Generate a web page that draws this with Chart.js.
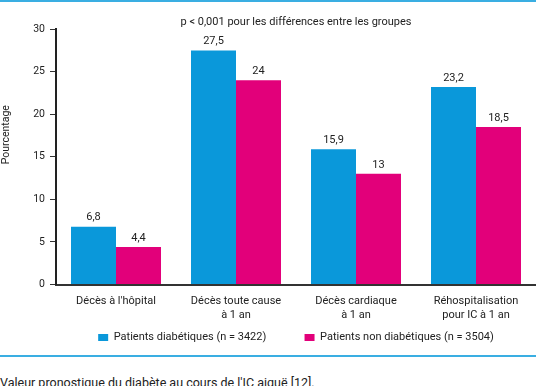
<!DOCTYPE html>
<html><head><meta charset="utf-8">
<script src="https://cdn.jsdelivr.net/npm/chart.js@4"></script>
<style>
html,body{margin:0;padding:0;background:#fff;width:536px;height:386px;overflow:hidden;font-family:Roboto,sans-serif;}
#top{position:absolute;left:0;top:0;width:536px;height:2px;background:#3aaee2;}
#bot{position:absolute;left:0;top:355px;width:536px;height:2px;background:#3aaee2;}
#wrap{position:absolute;left:0;top:0;width:536px;height:353px;}
#cap{position:absolute;left:0;top:375px;font-size:12.5px;line-height:15px;color:#222;white-space:nowrap;}
</style></head><body>
<div id="top"></div>
<div id="wrap"><canvas id="c"></canvas></div>
<div id="bot"></div>
<div id="cap">Valeur pronostique du diabète au cours de l'IC aiguë [12].</div>
<script>
const categories = [["Décès à l'hôpital"], ["Décès toute cause", "à 1 an"], ["Décès cardiaque", "à 1 an"], ["Réhospitalisation", "pour IC à 1 an"]];
const diabetiques = [6.8, 27.5, 15.9, 23.2];
const nonDiabetiques = [4.4, 24, 13, 18.5];
const seriesNames = ["Patients diabétiques (n = 3422)", "Patients non diabétiques (n = 3504)"];
const seriesColors = ["#0a98da", "#e2007a"];
const yTicks = [0, 5, 10, 15, 20, 25, 30];
const titleText = "p < 0,001 pour les différences entre les groupes";
const yTitle = "Pourcentage";

const fmt = v => String(v).replace('.', ',');
const labelPlugin = {
  id: 'vals',
  afterDatasetsDraw(chart) {
    const ctx = chart.ctx;
    ctx.save();
    ctx.fillStyle = '#222';
    ctx.font = '11px Roboto';
    ctx.textAlign = 'center';
    ctx.textBaseline = 'middle';
    chart.data.datasets.forEach((ds, i) => {
      chart.getDatasetMeta(i).data.forEach((el, j) => {
        ctx.fillText(fmt(ds.data[j]), el.x, el.y - 9);
      });
    });
    const y = chart.scales.y;
    ctx.translate(6, y.getPixelForValue(17.6));
    ctx.rotate(-Math.PI / 2);
    ctx.font = '10.5px Roboto';
    ctx.fillText(yTitle, 0, 0);
    ctx.restore();
  }
};
Chart.defaults.font.family = 'Roboto';
Chart.defaults.color = '#222';
new Chart(document.getElementById('c'), {
  type: 'bar',
  data: {
    labels: categories,
    datasets: [
      {label: seriesNames[0], data: diabetiques, backgroundColor: seriesColors[0], categoryPercentage: 0.75, barPercentage: 1},
      {label: seriesNames[1], data: nonDiabetiques, backgroundColor: seriesColors[1], categoryPercentage: 0.75, barPercentage: 1}
    ]
  },
  options: {
    responsive: true, maintainAspectRatio: false, animation: false,
    layout: {padding: {left: 0, right: 0, top: 0, bottom: 0}},
    plugins: {
      title: {display: true, text: titleText, fullSize: false, font: {size: 11, weight: 'normal'}, color: '#222', padding: {top: 16, bottom: 0}},
      legend: {
        position: 'bottom', fullSize: false,
        labels: {
          boxWidth: 10, boxHeight: 7, padding: 10, font: {size: 11}, color: '#222',
          generateLabels(chart) {
            const items = chart.data.datasets.map((ds, i) => ({
              text: ds.label, fillStyle: ds.backgroundColor, strokeStyle: ds.backgroundColor,
              lineWidth: 0, hidden: false, datasetIndex: i, fontColor: '#222'
            }));
            // invisible spacer between the two entries
            items.splice(1, 0, {text: ' ', fillStyle: 'rgba(0,0,0,0)', strokeStyle: 'rgba(0,0,0,0)', lineWidth: 0, hidden: false, fontColor: '#222'});
            return items;
          }
        }
      },
      tooltip: {enabled: false}
    },
    scales: {
      x: {
        afterFit(s) { s.height = 37.5; },
        grid: {display: false, drawTicks: false},
        border: {color: '#333', width: 2},
        ticks: {font: {size: 11}, color: '#222', padding: 10.5, maxRotation: 0, autoSkip: false}
      },
      y: {
        min: 0, max: 30,
        afterFit(s) { s.width = 56; },
        afterBuildTicks(s) { s.ticks = yTicks.map(v => ({value: v})); },
        grid: {drawOnChartArea: false, tickLength: 6, color: '#333'},
        border: {color: '#222', width: 2},
        ticks: {font: {size: 10.5}, color: '#222', padding: 5}
      }
    }
  },
  plugins: [labelPlugin]
});
</script>
</body></html>
